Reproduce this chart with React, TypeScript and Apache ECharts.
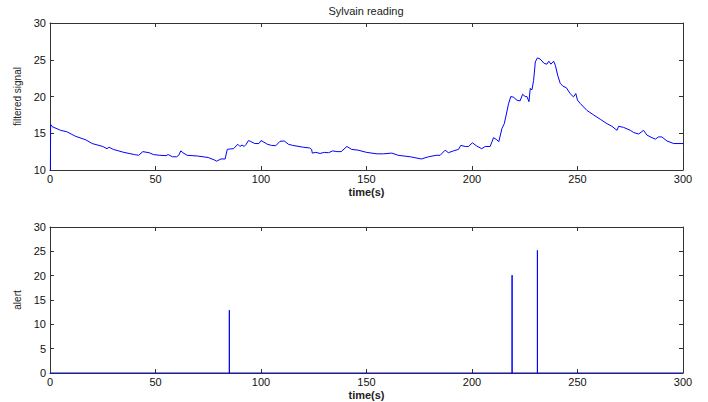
import React, { useEffect, useRef } from "react";
import * as echarts from "echarts";

const signalTime = [
  0, 0.3, 1, 5, 8, 10, 12, 17, 20, 25, 27, 28, 30, 35, 40, 42, 44, 47, 49, 52, 55, 56, 58, 60, 61, 62, 63, 65, 70, 75,
  78, 79, 81, 83, 84, 85, 87, 89, 90, 91, 92, 93, 94, 95, 97, 99, 100, 101, 103, 105, 107, 109, 111, 113, 115, 120,
  123, 124, 124.3, 126, 128, 130, 132, 134, 136, 138, 140.7, 143, 146, 150, 155, 158, 162, 165, 170.7, 176, 179.4,
  183, 184.9, 187.3, 188.8, 191.2, 193.6, 194.7, 196.8, 198.3, 200.2, 202.3, 204.6, 206.3, 208.6, 210.2, 211.8, 212.7,
  214.2, 215.3, 216.5, 217.3, 218.4, 219.7, 221.3, 222.8, 224, 225.2, 226, 227, 227.6, 228.4, 229.2, 230, 231, 232.3,
  234.2, 235.5, 236.4, 237.4, 238.7, 239.5, 240.6, 241.8, 243.1, 244.7, 246.5, 248.1, 249.2, 250, 251.3, 254.5,
  257.6, 260.8, 264, 266.3, 268.7, 269.5, 271.8, 275, 276.6, 279, 281.3, 282.9, 285.3, 286.9, 288.4, 290, 292.4,
  295.6, 300,
];
const signalValue = [
  0, 16.2, 15.9, 15.4, 15.2, 14.9, 14.6, 14.1, 13.6, 13.2, 12.9, 13.1, 12.8, 12.4, 12.1, 12.0, 12.5, 12.35, 12.1,
  12.0, 11.95, 12.1, 11.8, 11.8, 12.0, 12.6, 12.35, 12.0, 11.9, 11.7, 11.35, 11.2, 11.5, 11.5, 12.8, 12.85, 12.9,
  13.5, 13.2, 13.4, 13.2, 13.5, 14.0, 13.9, 13.6, 13.6, 14.0, 13.85, 13.5, 13.35, 13.3, 13.9, 13.95, 13.5, 13.35,
  13.1, 13.0, 12.8, 12.3, 12.4, 12.25, 12.4, 12.35, 12.6, 12.5, 12.5, 13.2, 12.8, 12.7, 12.4, 12.2, 12.2, 12.3, 12.0,
  11.8, 11.5, 11.8, 12.0, 12.0, 12.7, 12.35, 12.6, 12.8, 13.35, 13.2, 13.2, 13.7, 13.25, 12.9, 13.2, 13.2, 14.4,
  14.1, 13.85, 15.65, 16.3, 17.9, 19.0, 20.0, 19.9, 19.5, 19.4, 20.3, 20.0, 20.0, 19.3, 21.1, 20.9, 22.2, 24.7,
  25.25, 25.1, 24.5, 24.4, 24.8, 24.4, 24.8, 24.25, 22.9, 21.8, 21.4, 21.2, 20.4, 19.95, 20.4, 19.5, 19.05, 18.1,
  17.5, 16.9, 16.3, 15.95, 15.4, 15.95, 15.8, 15.4, 15.1, 14.9, 15.4, 14.75, 14.4, 14.2, 14.5, 14.5, 13.95, 13.6,
  13.6,
];

const alertTimes = [85, 219, 231];
const alertValues = [12.9, 20.1, 25.2];

const xTicks = [0, 50, 100, 150, 200, 250, 300];
const signalTicks = [10, 15, 20, 25, 30];
const alertTicks = [0, 5, 10, 15, 20, 25, 30];

const FONT = "Liberation Sans";
const BLUE = "#0000ff";
const AXIS = "#333";

export default function App() {
  const ref = useRef<HTMLDivElement>(null);
  useEffect(() => {
    document.body.style.margin = "0";
    const chart = echarts.init(ref.current!, null, { renderer: "svg" });

    const signalData = signalTime.map((t, i) => [t, signalValue[i]]);
    const alertData: number[][] = [[0, 0]];
    alertTimes.forEach((t, i) => {
      alertData.push([t, 0], [t, alertValues[i]], [t, 0]);
    });
    alertData.push([300, 0]);

    const tickText = { fontFamily: FONT, fontSize: 11, color: "#111" };
    const xMin = xTicks[0];
    const xMax = xTicks[xTicks.length - 1];

    const mkX = (gridIndex: number, position: "bottom" | "top", labels: boolean) => ({
      type: "value",
      gridIndex,
      position,
      min: xMin,
      max: xMax,
      interval: 50,
      name: labels ? "time(s)" : "",
      nameLocation: "middle",
      nameGap: 16,
      nameTextStyle: { fontFamily: FONT, fontSize: 11, fontWeight: "bold", color: "#222" },
      axisLine: { show: true, onZero: false, lineStyle: { color: AXIS, width: 1 } },
      axisTick: { show: true, inside: true, length: 4, lineStyle: { color: AXIS } },
      axisLabel: { show: labels, margin: 3, ...tickText },
      splitLine: { show: false },
    });

    const mkY = (
      gridIndex: number,
      position: "left" | "right",
      labels: boolean,
      ticks: number[],
      name: string
    ) => ({
      type: "value",
      gridIndex,
      position,
      min: ticks[0],
      max: ticks[ticks.length - 1],
      interval: 5,
      name: labels ? name : "",
      nameLocation: "middle",
      nameGap: 26,
      nameRotate: 90,
      nameTextStyle: { fontFamily: FONT, fontSize: 10, color: "#222" },
      axisLine: { show: true, onZero: false, lineStyle: { color: AXIS, width: 1 } },
      axisTick: { show: true, inside: true, length: 4, lineStyle: { color: AXIS } },
      axisLabel: { show: labels, margin: 4, ...tickText },
      splitLine: { show: false },
    });

    chart.setOption({
      animation: false,
      backgroundColor: "#fff",
      title: {
        text: "Sylvain reading",
        left: 366,
        top: 5,
        padding: 0,
        textAlign: "center",
        textStyle: { fontFamily: FONT, fontSize: 11, fontWeight: "normal", color: "#222" },
      },
      grid: [
        { left: 50, right: 25, top: 23, height: 147 },
        { left: 50, right: 25, top: 227, height: 146 },
      ],
      xAxis: [mkX(0, "bottom", true), mkX(0, "top", false), mkX(1, "bottom", true), mkX(1, "top", false)],
      yAxis: [
        mkY(0, "left", true, signalTicks, "filtered signal"),
        mkY(0, "right", false, signalTicks, ""),
        mkY(1, "left", true, alertTicks, "alert"),
        mkY(1, "right", false, alertTicks, ""),
      ],
      series: [
        {
          type: "line",
          xAxisIndex: 0,
          yAxisIndex: 0,
          data: signalData,
          showSymbol: false,
          clip: true,
          lineStyle: { color: BLUE, width: 1 },
        },
        {
          type: "line",
          xAxisIndex: 2,
          yAxisIndex: 2,
          data: alertData,
          showSymbol: false,
          clip: true,
          lineStyle: { color: BLUE, width: 1 },
        },
      ],
    });
    return () => chart.dispose();
  }, []);
  return <div ref={ref} style={{ width: 708, height: 402 }} />;
}
